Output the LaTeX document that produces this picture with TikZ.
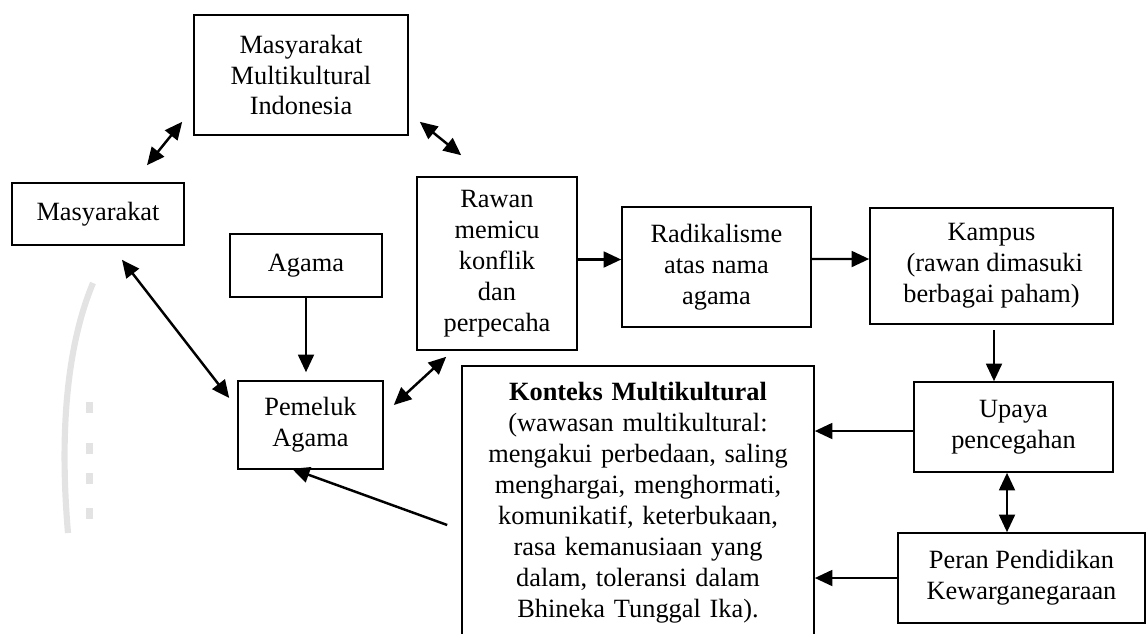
\documentclass[tikz,border=0pt]{standalone}
\usepackage{fontspec}
\setmainfont{Liberation Serif}
\usetikzlibrary{arrows.meta}

\begin{document}
\begin{tikzpicture}[
	box/.style={draw, line width=0.9pt, align=center, inner sep=0pt, font=\fontsize{15}{17.6}\selectfont},
	arr/.style={-{Triangle[length=10pt,width=9pt]}, line width=1.4pt},
	dbl/.style={{Triangle[length=10pt,width=9pt]}-{Triangle[length=10pt,width=9pt]}, line width=1.4pt}]

		\useasboundingbox (0,0) rectangle (22.92,-12.66);

		% faint mark on the left
		\draw[gray!22, line width=3.5pt] (1.86,-5.66) .. controls (1.30,-7.0) and (1.20,-8.8) .. (1.36,-10.66);
		\foreach \y in {-8.04,-8.86,-9.46,-10.16} \fill[gray!22] (1.72,\y) rectangle (1.86,\y-0.22);

		\node[box, minimum width=4.28cm, minimum height=2.40cm] (mmi) at ( 6.02,-1.50) {Masyarakat\\Multikultural\\Indonesia};
		\node[box, minimum width=3.44cm, minimum height=1.24cm] (mas) at ( 1.96,-4.28) {Masyarakat};
		\node[box, minimum width=3.04cm, minimum height=1.26cm] (aga) at ( 6.12,-5.31) {Agama};
		\node[box, minimum width=2.90cm, minimum height=1.76cm] (pem) at ( 6.21,-8.50) {Pemeluk\\Agama};
		\node[box, minimum width=3.20cm, minimum height=3.46cm] (raw) at ( 9.94,-5.27) {Rawan\\memicu\\konflik\\dan\\perpecaha};
		\node[box, minimum width=3.78cm, minimum height=2.40cm] (rad) at (14.33,-5.34) {Radikalisme\\atas nama\\agama};
		\node[box, minimum width=4.86cm, minimum height=2.32cm] (kam) at (19.83,-5.32) {Kampus\\\ (rawan dimasuki\\berbagai paham)};
		\node[box, minimum width=3.98cm, minimum height=1.80cm] (upa) at (20.27,-8.54) {Upaya\\pencegahan};
		\node[box, minimum width=4.94cm, minimum height=1.80cm] (per) at (20.43,-11.56) {Peran Pendidikan\\Kewarganegaraan};
		\node[box, anchor=north, text width=6.6cm, inner xsep=0.22cm, inner ysep=9.6pt] (kon) at (12.76,-7.30)
			{\textbf{Konteks Multikultural}\\(wawasan multikultural:\\mengakui perbedaan, saling\\menghargai, menghormati,\\komunikatif, keterbukaan,\\rasa kemanusiaan yang\\dalam, toleransi dalam\\Bhineka Tunggal Ika).};

		\draw[dbl] ([shift={(0.98,0.34)}]mas.north) to ([shift={(-0.22,0.28)}]mmi.south west);
		\draw[dbl] ([shift={(0.22,0.28)}]mmi.south east) to ([shift={(0.90,0.42)}]raw.north west);
		\draw[dbl] ([shift={(0.48,-0.28)}]mas.south) to ([shift={(-0.16,0.54)}]pem.west);
		\draw[arr, shorten >=0.16cm] (aga.south) to (aga.south |- pem.north);
		\draw[dbl] ([shift={(0.20,0.40)}]pem.east) to ([shift={(0.60,-0.12)}]raw.south west);
		\draw[arr] ([yshift=0.08cm]raw.east) to ([yshift=0.15cm]rad.west);
		\draw[arr] ([yshift=0.16cm]rad.east) to ([yshift=0.14cm]kam.west);
		\draw[arr, shorten <=0.1cm] ([xshift=0.05cm]kam.south) to ([xshift=0.05cm]kam.south |- upa.north);
		\draw[dbl] ([xshift=-0.13cm]upa.south) to ([xshift=-0.13cm]upa.south |- per.north);
		\draw[arr] ([yshift=-0.08cm]upa.west) to ([yshift=-0.08cm]upa.west -| kon.east);
		\draw[arr] (per.west) to (per.west -| kon.east);
		\draw[arr] ([shift={(-0.28,-3.20)}]kon.north west) to ([shift={(-0.37,0.02)}]pem.south);

	\end{tikzpicture}
\end{document}
